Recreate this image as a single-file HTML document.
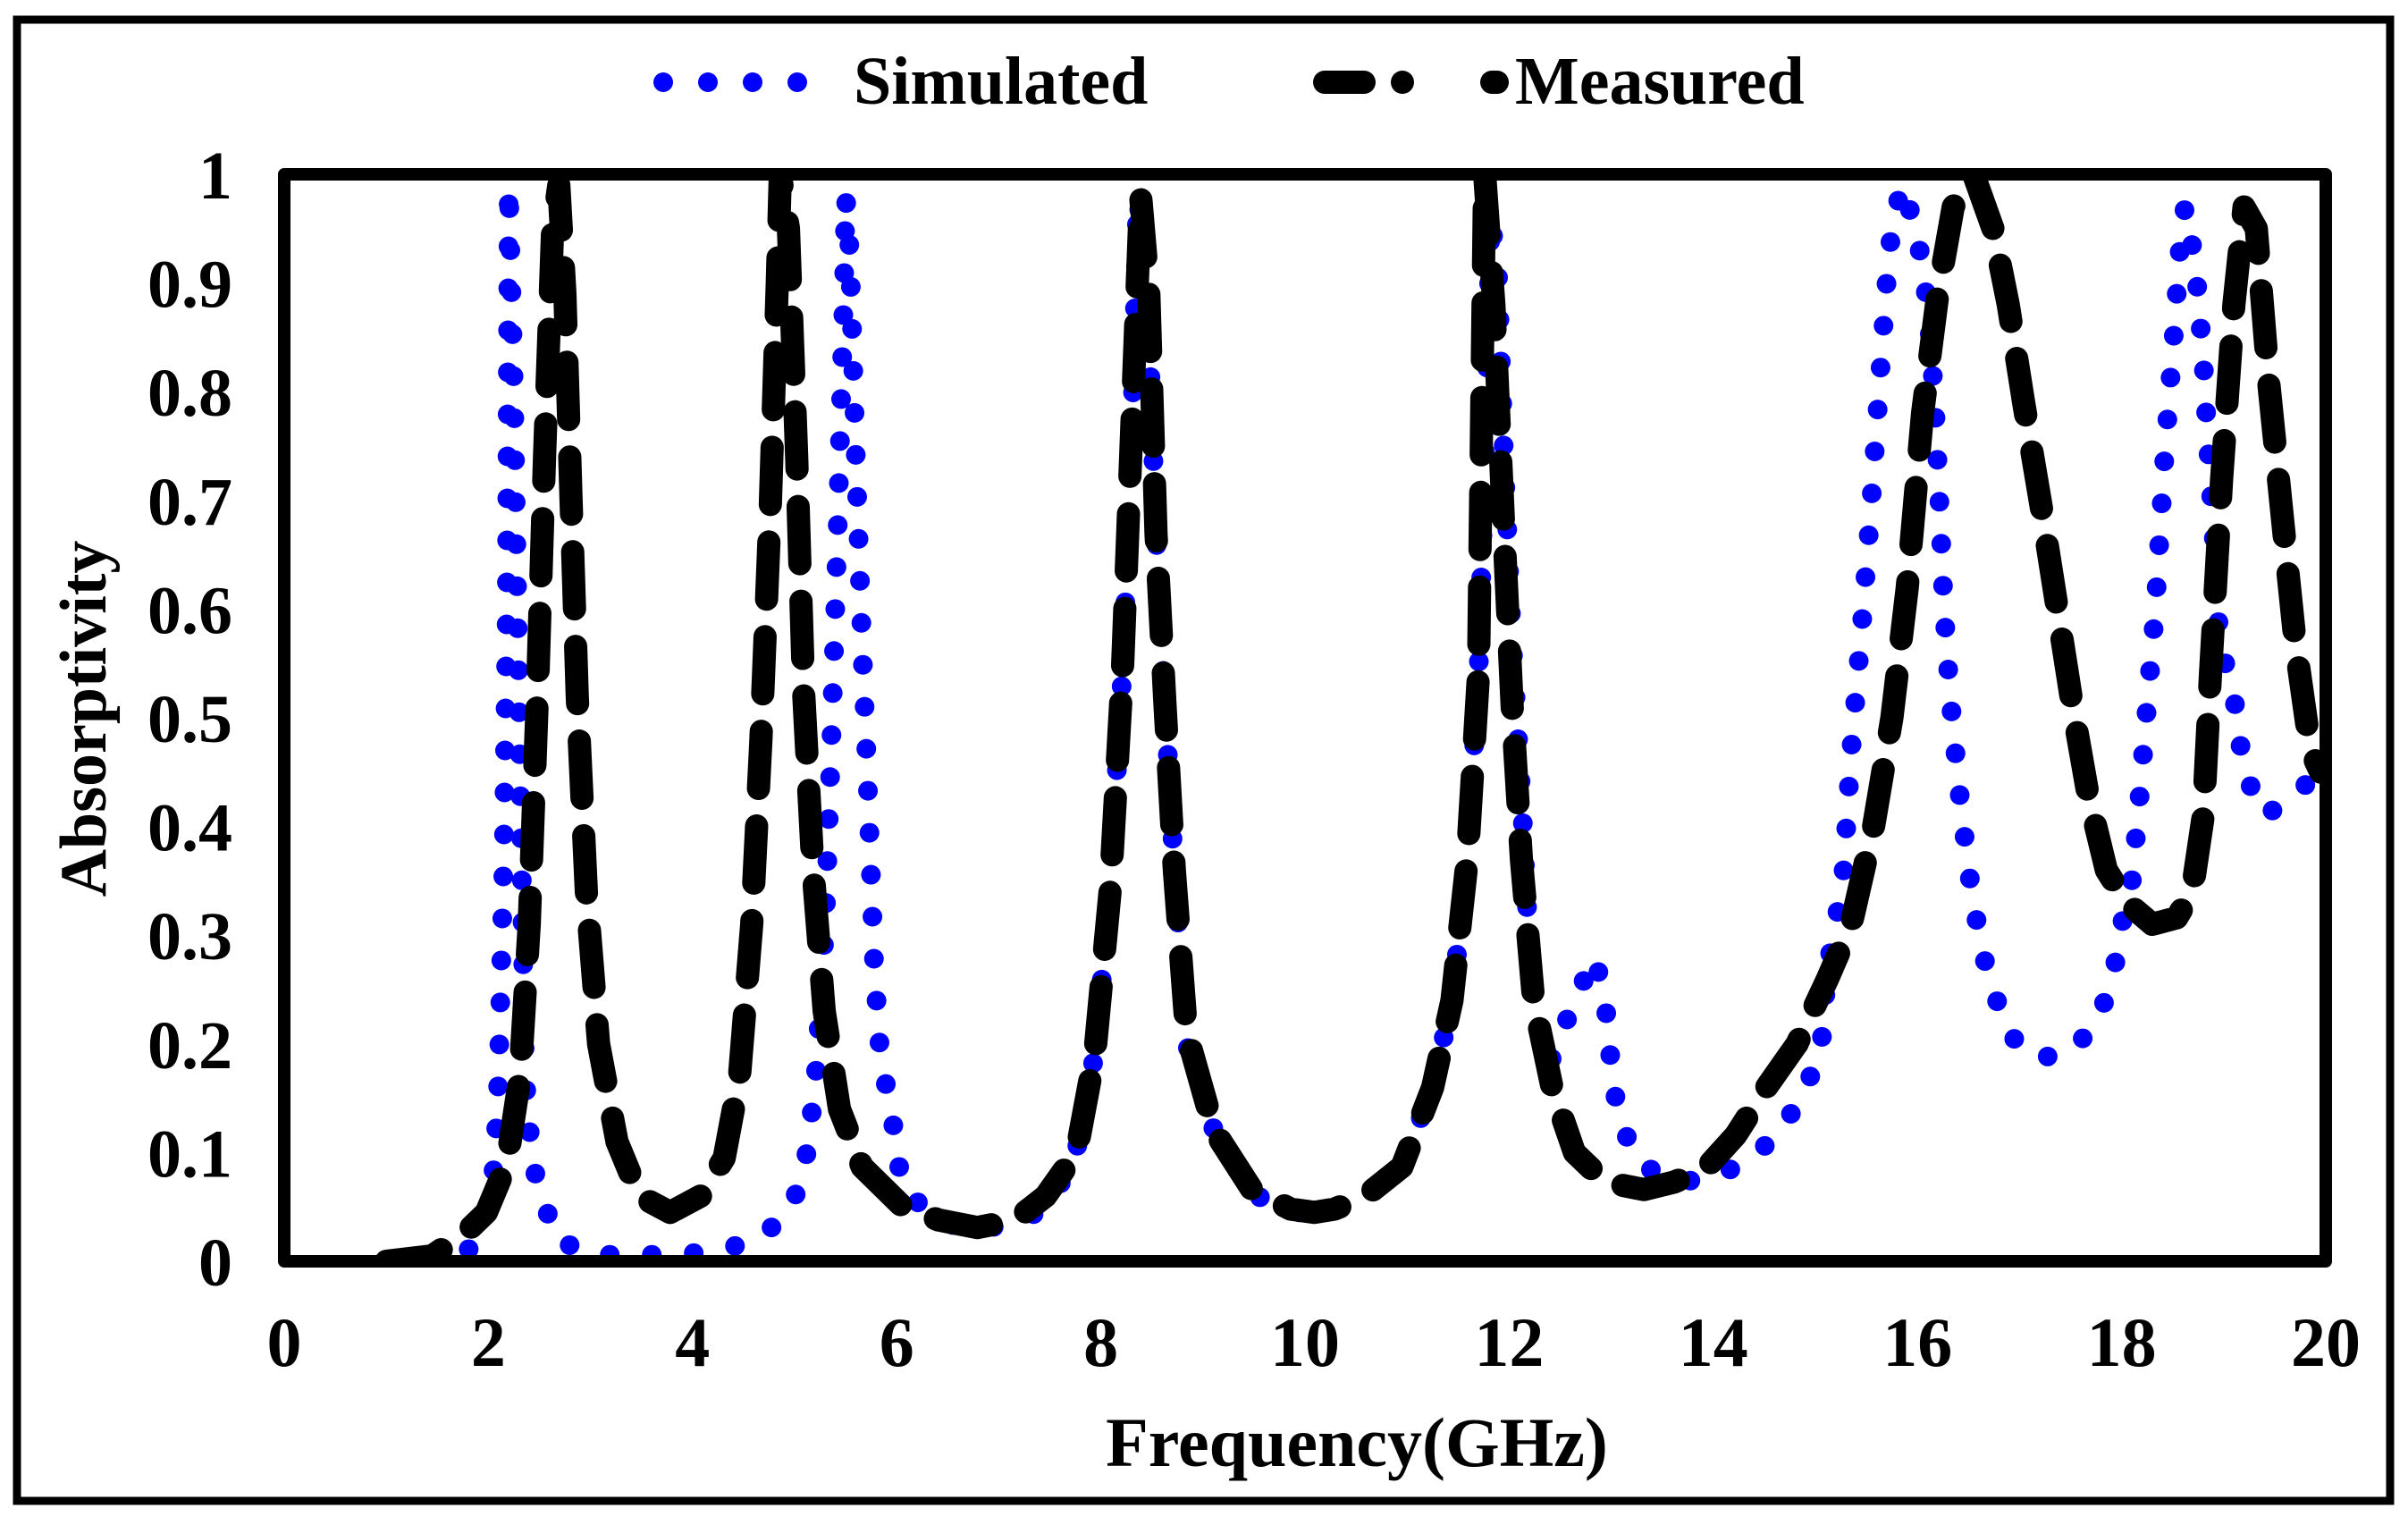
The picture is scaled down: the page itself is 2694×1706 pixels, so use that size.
<!DOCTYPE html>
<html><head><meta charset="utf-8"><style>
html,body{margin:0;padding:0;background:#fff}
svg{display:block}
text{font-family:"Liberation Serif",serif;font-weight:bold;fill:#000}
</style></head><body>
<svg id="chart" width="2694" height="1706" viewBox="0 0 2694 1706">
<rect x="19" y="22" width="2655" height="1657" fill="#fff" stroke="#000" stroke-width="9"/>
<g id="legend">
<g>
<line x1="742" y1="92" x2="942" y2="92" stroke="#0000ff" stroke-width="22" stroke-linecap="round" stroke-dasharray="0 50"/>
<text x="955" y="116" font-size="76">Simulated</text>
</g>
<g>
<line x1="1482" y1="92" x2="1675" y2="92" stroke="#000" stroke-width="26" stroke-linecap="round" stroke-dasharray="44 43 0 100"/>
<text x="1695" y="116" font-size="76">Measured</text>
</g>
</g>
<g id="yticks"></g>
<g id="xticks"></g>
<defs><clipPath id="clip"><rect x="318" y="195" width="2284" height="1216"/></clipPath></defs>
<g id="series" clip-path="url(#clip)"></g>
<rect x="318" y="195" width="2284" height="1216" fill="none" stroke="#000" stroke-width="14" stroke-linejoin="round"/>
<text x="1518" y="1640" font-size="78" text-anchor="middle">Frequency(GHz)</text>
<text transform="translate(118,804) rotate(-90)" font-size="74" text-anchor="middle">Absorptivity</text>
</svg>
<script>
const xTickLabels=["0","2","4","6","8","10","12","14","16","18","20"];
const yTickLabels=["0","0.1","0.2","0.3","0.4","0.5","0.6","0.7","0.8","0.9","1"];
const simX=[1.0,1.45,1.8,1.98,2.06,2.1,2.15,2.18,2.19,2.2,2.25,2.31,2.36,2.43,2.66,3.03,3.44,3.86,4.26,4.64,4.94,5.09,5.2,5.3,5.36,5.42,5.48,5.5,5.54,5.6,5.66,5.72,5.78,5.84,5.96,6.05,6.3,6.62,7.0,7.39,7.73,7.94,8.09,8.21,8.3,8.36,8.45,8.54,8.63,8.72,8.84,9.11,9.53,9.94,10.29,10.59,10.95,11.25,11.44,11.59,11.7,11.76,11.82,11.89,11.95,12.03,12.12,12.21,12.39,12.64,12.84,12.94,13.02,13.12,13.32,13.69,14.04,14.37,14.67,14.9,15.05,15.12,15.27,15.35,15.45,15.54,15.63,15.72,15.84,15.99,16.1,16.17,16.22,16.26,16.32,16.4,16.5,16.62,16.74,16.89,17.15,17.52,17.79,17.93,18.0,18.09,18.17,18.24,18.33,18.42,18.51,18.57,18.62,18.72,18.8,18.84,18.9,18.96,19.1,19.2,19.4,19.73,19.9,20.0];
const simY=[0,0.003,0.01,0.04,0.09,0.17,0.37,0.6,0.81,0.99,0.8,0.45,0.17,0.09,0.02,0.006,0.006,0.006,0.01,0.02,0.045,0.08,0.16,0.31,0.48,0.67,0.88,0.98,0.93,0.74,0.57,0.43,0.27,0.19,0.13,0.07,0.045,0.03,0.032,0.045,0.087,0.19,0.34,0.54,0.74,0.98,0.91,0.67,0.51,0.36,0.2,0.12,0.06,0.045,0.048,0.06,0.087,0.16,0.24,0.37,0.54,0.74,0.96,0.91,0.74,0.57,0.43,0.26,0.18,0.24,0.28,0.24,0.16,0.12,0.087,0.073,0.078,0.095,0.12,0.16,0.19,0.27,0.35,0.47,0.58,0.69,0.81,0.93,0.99,0.95,0.88,0.79,0.69,0.6,0.52,0.44,0.36,0.29,0.25,0.21,0.186,0.193,0.226,0.27,0.31,0.34,0.42,0.5,0.6,0.74,0.85,0.93,0.97,0.92,0.83,0.76,0.67,0.57,0.52,0.45,0.41,0.43,0.45,0.46];
const measX=[1.0,1.45,1.76,1.98,2.18,2.31,2.4,2.48,2.55,2.63,2.69,2.75,2.81,2.87,2.96,3.08,3.26,3.48,3.78,4.08,4.31,4.46,4.58,4.67,4.76,4.83,4.86,4.94,5.02,5.09,5.18,5.29,5.44,5.66,6.04,6.41,6.79,7.16,7.46,7.76,7.94,8.09,8.21,8.3,8.39,8.47,8.54,8.63,8.72,8.84,9.11,9.48,9.86,10.09,10.29,10.59,10.95,11.25,11.44,11.59,11.7,11.76,11.85,11.94,12.03,12.12,12.24,12.42,12.64,12.94,13.32,13.62,13.92,14.22,14.52,14.82,15.12,15.35,15.57,15.75,15.9,16.05,16.2,16.35,16.55,16.74,16.89,17.04,17.22,17.37,17.52,17.67,17.85,18.05,18.3,18.54,18.69,18.8,18.87,18.98,19.1,19.2,19.32,19.44,19.59,19.7,19.85,19.95,20.0];
const measY=[0,0.005,0.025,0.045,0.09,0.17,0.31,0.52,0.74,0.95,0.99,0.89,0.7,0.52,0.34,0.2,0.11,0.06,0.045,0.06,0.095,0.17,0.31,0.48,0.69,0.9,1.0,0.95,0.74,0.52,0.36,0.23,0.14,0.087,0.052,0.038,0.031,0.038,0.06,0.1,0.19,0.34,0.54,0.76,0.98,0.89,0.67,0.51,0.36,0.21,0.12,0.066,0.048,0.045,0.048,0.06,0.087,0.16,0.24,0.37,0.54,1.0,0.88,0.69,0.51,0.37,0.24,0.16,0.1,0.073,0.066,0.073,0.085,0.116,0.16,0.2,0.26,0.31,0.4,0.5,0.62,0.78,0.89,0.97,1.0,0.95,0.88,0.79,0.69,0.6,0.51,0.43,0.36,0.33,0.31,0.316,0.34,0.41,0.54,0.72,0.88,0.97,0.95,0.81,0.67,0.57,0.47,0.45,0.45];

const NS="http://www.w3.org/2000/svg";
const X0=318,X1=2602,Y0=1411,Y1=195;
function xs(v){return X0+(v-0)/(20-0)*(X1-X0);}
function ys(v){return Y0-(v-0)/(1-0)*(Y0-Y1);}
const yt=document.getElementById('yticks');
yTickLabels.forEach(function(l){
  const t=document.createElementNS(NS,'text');
  t.setAttribute('x',260);t.setAttribute('y',ys(parseFloat(l))+27);
  t.setAttribute('font-size','76');t.setAttribute('text-anchor','end');
  t.textContent=l;
  
  
  yt.appendChild(t);
});
const xt=document.getElementById('xticks');
xTickLabels.forEach(function(l){
  const t=document.createElementNS(NS,'text');
  t.setAttribute('x',xs(parseFloat(l)));t.setAttribute('y',1528);
  t.setAttribute('font-size','78');t.setAttribute('text-anchor','middle');
  t.textContent=l;
  
  
  xt.appendChild(t);
});
const sg=document.getElementById('series');
function pts(a,b){return a.map(function(v,i){return xs(v).toFixed(1)+','+ys(b[i]).toFixed(1);}).join(' ');}
const sim=document.createElementNS(NS,'polyline');
sim.setAttribute('points',pts(simX,simY));
sim.setAttribute('fill','none');sim.setAttribute('stroke','#0000ff');
sim.setAttribute('stroke-width','22');sim.setAttribute('stroke-linecap','round');
sim.setAttribute('stroke-dasharray','0 47');


sg.appendChild(sim);
const meas=document.createElementNS(NS,'polyline');
meas.setAttribute('points',pts(measX,measY));
meas.setAttribute('fill','none');meas.setAttribute('stroke','#000');
meas.setAttribute('stroke-width','26');meas.setAttribute('stroke-linecap','round');
meas.setAttribute('stroke-linejoin','round');
meas.setAttribute('stroke-dasharray','64 42');


sg.appendChild(meas);
</script>
</body></html>
